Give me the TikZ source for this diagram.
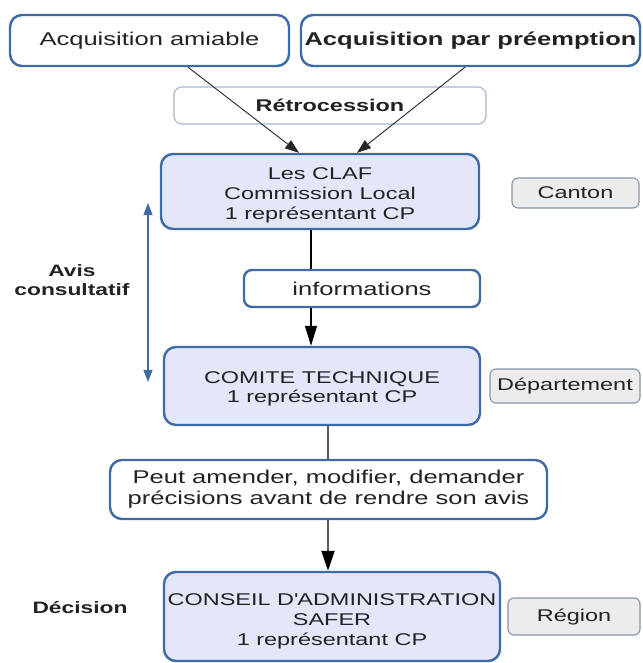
\documentclass[tikz,border=0pt]{standalone}
\usepackage{fontspec}
\setmainfont{Liberation Sans}[FakeStretch=1.38]
\usetikzlibrary{arrows.meta}
\definecolor{bord}{HTML}{3E6BA6}
\definecolor{lav}{HTML}{E4E7FA}
\definecolor{greyfill}{HTML}{ECECEC}
\definecolor{greybord}{HTML}{8494AA}
\definecolor{retrobord}{HTML}{A3B6D2}
\definecolor{linegrey}{HTML}{5A5A5A}
\definecolor{txt}{HTML}{222222}
\newcommand{\lowtext}[2]{\raisebox{#1}[\height][\depth]{\begin{tabular}{@{}c@{}}#2\end{tabular}}}
\begin{document}
\begin{tikzpicture}[x=1pt,y=-1pt,
  box/.style={rounded corners=12pt, line width=2.4pt, draw=bord, inner sep=0pt, align=center, text=txt},
  bluebox/.style={box, fill=lav, font=\fontsize{17}{19.6}\selectfont},
  whitebox/.style={box, fill=white, font=\fontsize{18.5}{21}\selectfont},
  tagbox/.style={rounded corners=6pt, draw=greybord, line width=1.1pt, fill=greyfill, inner sep=0pt, text=txt, font=\fontsize{17}{19.7}\selectfont},
  lbl/.style={font=\fontsize{16.5}{19.5}\selectfont\bfseries, align=center, text=txt},
  thinarrow/.style={draw=black!85, line width=0.9pt, -{Triangle[length=14pt,width=10pt]}},
  vline/.style={draw=black, line width=1.3pt},
  varrow/.style={draw=black, line width=1.3pt, -{Triangle[length=20pt,width=12pt]}},
  gline/.style={draw=linegrey, line width=2pt},
  garrow/.style={draw=linegrey, line width=2pt, -{Triangle[length=20pt,width=13pt,fill=black,color=black]}},
  bluearrow/.style={draw=bord, line width=1.2pt, {Triangle[length=12pt,width=9pt]}-{Triangle[length=12pt,width=9pt]}}
]
\useasboundingbox (0,0) rectangle (642,663);
\fill[white] (0,0) rectangle (642,663);

\node[whitebox, minimum width=279pt, minimum height=51pt] (amiable) at (149.5,40.5) {Acquisition amiable};
\node[whitebox, minimum width=339pt, minimum height=51pt, font=\fontsize{18.5}{21}\selectfont\bfseries] (preempt) at (470.5,40.5) {Acquisition par préemption};

\node[box, line width=1.1pt, draw=retrobord, rounded corners=8pt, fill=white, minimum width=312pt, minimum height=37pt, font=\fontsize{17}{20}\selectfont\bfseries] (retro) at (330,105.5) {Rétrocession};

\node[bluebox, minimum width=318pt, minimum height=75pt] (claf) at (320,191.5) {\lowtext{-4pt}{Les CLAF\\Commission Local\\1 représentant CP}};
\node[tagbox, minimum width=127pt, minimum height=30pt] (canton) at (575.5,193) {Canton};

\node[whitebox, rounded corners=8pt, minimum width=236pt, minimum height=37pt] (info) at (362,288.5) {informations};

\node[bluebox, minimum width=316pt, minimum height=78pt] (comite) at (322,386) {\lowtext{-3pt}{COMITE TECHNIQUE\\1 représentant CP}};
\node[tagbox, minimum width=150pt, minimum height=34pt] (dept) at (565,386) {Département};

\node[whitebox, minimum width=437pt, minimum height=59pt] (peut) at (328.5,489.5) {Peut amender, modifier, demander\\précisions avant de rendre son avis};

\node[bluebox, minimum width=336pt, minimum height=89pt] (conseil) at (332,616.5) {\lowtext{-5pt}{CONSEIL D\textquotesingle ADMINISTRATION\\SAFER\\1 représentant CP}};
\node[tagbox, minimum width=132pt, minimum height=37pt] (region) at (574,616.5) {Région};

\node[lbl] (avis) at (72,280) {Avis\\consultatif};
\node[lbl] (decision) at (80,608) {Décision};

\draw[thinarrow] ([xshift=38.5pt]amiable.south) -- ([xshift=-21pt]claf.north);
\draw[thinarrow] ([xshift=-5.5pt]preempt.south) -- ([xshift=37pt]claf.north);

\draw[vline] ([xshift=-9pt]claf.south) -- ([xshift=-51pt]info.north);
\draw[varrow] ([xshift=-51pt]info.south) -- ([xshift=-11pt]comite.north);

\draw[gline] ([xshift=6pt]comite.south) -- ([xshift=-0.5pt]peut.north);
\draw[garrow] ([xshift=-0.5pt]peut.south) -- ([xshift=-4pt]conseil.north);

\coordinate (avt) at (148,203);
\coordinate (avb) at (148,382);
\draw[bluearrow] (avt) -- (avb);
\end{tikzpicture}
\end{document}
